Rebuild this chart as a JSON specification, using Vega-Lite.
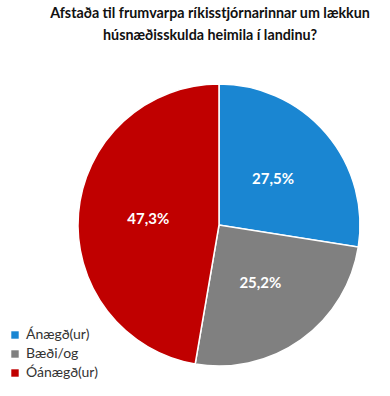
{
  "$schema": "https://vega.github.io/schema/vega-lite/v6.json",
  "width": 282,
  "height": 282,
  "autosize": {"type": "none"},
  "padding": {"left": 78, "top": 84, "right": 30, "bottom": 30},
  "background": "white",
  "title": {
    "text": ["Afstaða til frumvarpa ríkisstjórnarinnar um lækkun", "húsnæðisskulda heimila í landinu?"],
    "anchor": "middle",
    "dx": -9,
    "offset": 38,
    "font": "Lato",
    "fontSize": 14.3,
    "fontWeight": "bold",
    "color": "#111111",
    "lineHeight": 22
  },
  "data": {
    "values": [
      {"cat": "Ánægð(ur)", "value": 27.5, "order": 1, "label": "27,5%"},
      {"cat": "Bæði/og", "value": 25.2, "order": 2, "label": "25,2%"},
      {"cat": "Óánægð(ur)", "value": 47.3, "order": 3, "label": "47,3%"}
    ]
  },
  "encoding": {
    "theta": {"field": "value", "type": "quantitative", "stack": true},
    "order": {"field": "order", "type": "quantitative"}
  },
  "layer": [
    {
      "mark": {"type": "arc", "outerRadius": 141, "stroke": "white", "strokeWidth": 1.5},
      "encoding": {
        "color": {
          "field": "cat",
          "type": "nominal",
          "scale": {"domain": ["Ánægð(ur)", "Bæði/og", "Óánægð(ur)"], "range": ["#1a86d2", "#808080", "#c00000"]},
          "legend": {
            "title": null,
            "orient": "none",
            "legendX": -70,
            "legendY": 244,
            "symbolType": "square",
            "symbolSize": 55,
            "symbolStrokeWidth": 0,
            "labelFont": "Lato",
            "labelFontSize": 14,
            "labelColor": "#333333",
            "rowPadding": 5,
            "labelOffset": 4
          }
        }
      }
    },
    {
      "mark": {"type": "text", "radius": 71, "font": "Lato", "fontSize": 15, "fontWeight": "bold", "color": "white"},
      "encoding": {"text": {"field": "label", "type": "nominal"}}
    }
  ]
}
